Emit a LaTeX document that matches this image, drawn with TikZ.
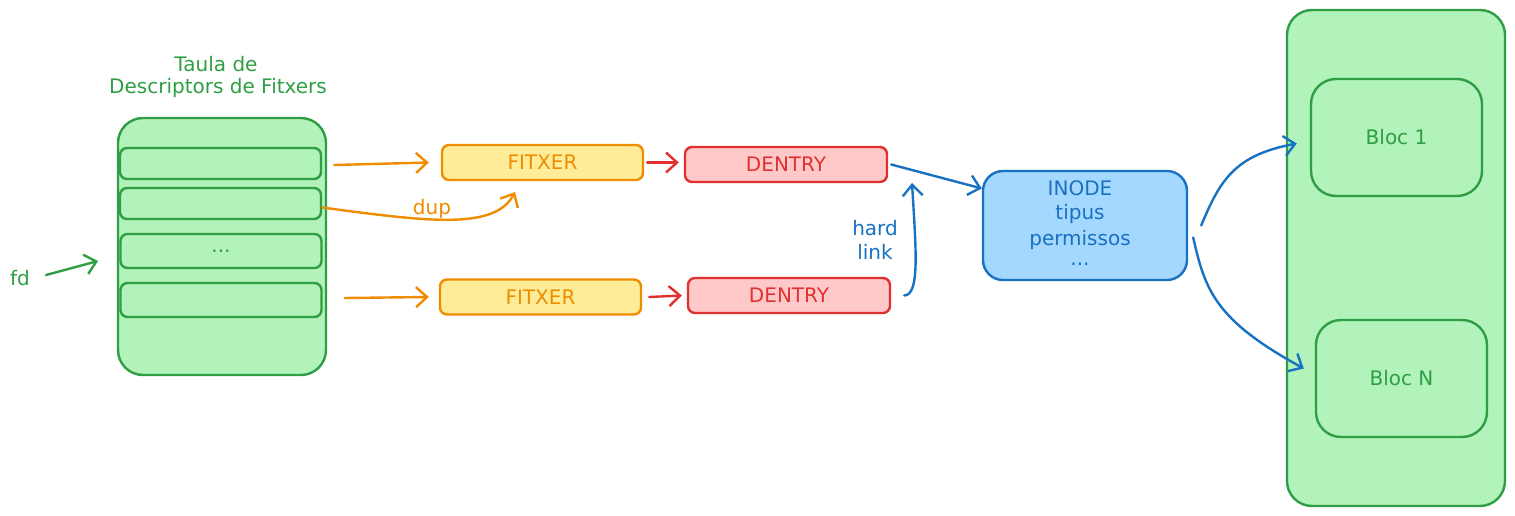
\documentclass[tikz,border=0pt]{standalone}
\usepackage{fontspec}
\setmainfont{DejaVu Sans}
\usetikzlibrary{arrows.meta}
\definecolor{gS}{HTML}{2F9E44}\definecolor{gF}{HTML}{B2F2BB}
\definecolor{oS}{HTML}{F08C00}\definecolor{oF}{HTML}{FFEC99}
\definecolor{rS}{HTML}{E03131}\definecolor{rF}{HTML}{FFC9C9}
\definecolor{bS}{HTML}{1971C2}\definecolor{bF}{HTML}{A5D8FF}
\begin{document}
\begin{tikzpicture}[x=1pt,y=-1pt,
  every node/.style={font=\fontsize{20}{24}\selectfont, inner sep=0pt},
  box/.style={draw, line width=2.4pt, rounded corners=#1},
  box/.default=7pt,
  gbox/.style={box=#1, draw=gS, fill=gF, text=gS},
  gbox/.default=7pt,
  obox/.style={box, draw=oS, fill=oF, text=oS, minimum width=201pt, minimum height=35pt},
  rbox/.style={box, draw=rS, fill=rF, text=rS, minimum width=202pt, minimum height=35pt},
  arr/.style={line width=2.4pt, line cap=round, -{Straight Barb[length=11pt,width=20pt,line width=2.4pt]}},
]
\useasboundingbox (0,0) rectangle (1515,516);
% table
\node[gbox=25pt, minimum width=208pt, minimum height=257pt] (tab) at (222,246.5) {};
\node[gbox, minimum width=201pt, minimum height=31pt] (r1) at (220.5,163.5) {};
\node[gbox, minimum width=201pt, minimum height=31pt] (r2) at (220.5,203.5) {};
\node[gbox, minimum width=201pt, minimum height=34pt] (r3) at (221,251) {...};
\node[gbox, minimum width=201pt, minimum height=34pt] (r4) at (221,300) {};
\node[text=gS] (title1) at (216,64) {Taula de};
\node[text=gS] (title2) at (218,88) {Descriptors de Fitxers};
\node[text=gS] (fd) at (20,278) {fd};
\coordinate (fdend) at (98,261);
\draw[arr, draw=gS] ([xshift=16pt,yshift=3pt]fd.east) -- (fdend);
% fitxers
\node[obox] (f1) at (542.5,162.5) {FITXER};
\node[obox] (f2) at (540.5,297) {FITXER};
\draw[arr, draw=oS] ([xshift=12pt,yshift=-1.5pt]r1.east) -- ([xshift=-12pt]f1.west);
\draw[arr, draw=oS] ([xshift=22pt,yshift=2pt]r4.east) -- ([xshift=-10pt]f2.west);
\coordinate (dupend) at (515,192);
\draw[arr, draw=oS] ([yshift=-4pt]r2.east) .. controls (430,222) and (495,230) .. (dupend);
\node[text=oS] (dup) at (432,209) {dup};
% dentries
\node[rbox] (d1) at (786,164.5) {DENTRY};
\node[rbox] (d2) at (789,295.5) {DENTRY};
\draw[arr, draw=rS] ([xshift=3pt]f1.east) -- ([xshift=-5pt,yshift=2pt]d1.west);
\draw[arr, draw=rS] ([xshift=7pt]f2.east) -- ([xshift=-5pt]d2.west);
% inode
\node[box=20pt, draw=bS, fill=bF, minimum width=204pt, minimum height=109pt] (ino) at (1085,225.5) {};
\node[text=bS] (t1) at (1080,188) {INODE};
\node[text=bS] (t2) at (1080,214) {tipus};
\node[text=bS] (t3) at (1080,240) {permissos};
\node[text=bS] (t4) at (1080,264) {...};
\draw[arr, draw=bS] ([xshift=3pt]d1.east) -- ([yshift=37pt]ino.west);
\coordinate (hlend) at (912,183);
\draw[arr, draw=bS] ([xshift=13pt]d2.east) .. controls (920,295) and (916,250) .. (hlend);
\node[text=bS] (hl1) at (875,228) {hard};
\node[text=bS] (hl2) at (875,252) {link};
% blocks
\node[gbox=25pt, minimum width=218pt, minimum height=496pt] (disk) at (1396,258) {};
\node[gbox=25pt, minimum width=171pt, minimum height=117pt] (b1) at (1396.5,137.5) {Bloc 1};
\node[gbox=25pt, minimum width=171pt, minimum height=117pt] (bn) at (1401.5,378.5) {Bloc N};
\draw[arr, draw=bS] ([xshift=13pt]ino.east) .. controls (1220,180) and (1235,155) .. ([xshift=-13pt,yshift=-6pt]b1.west);
\draw[arr, draw=bS] ([xshift=5pt,yshift=-12pt]ino.east) .. controls (1205,290) and (1215,320) .. ([xshift=-11pt,yshift=10pt]bn.west);
\end{tikzpicture}
\end{document}
